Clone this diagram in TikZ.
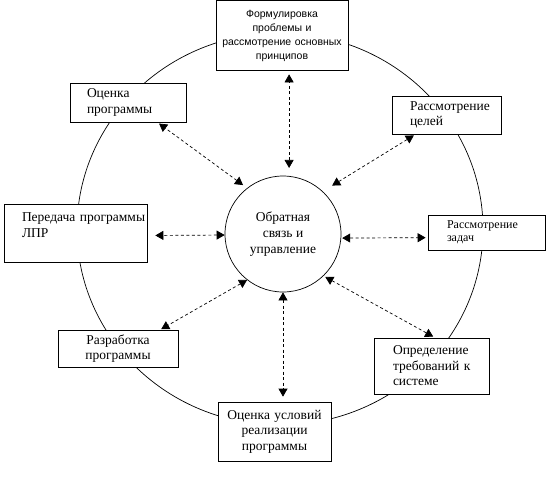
\documentclass[tikz,border=0pt]{standalone}
\usepackage{fontspec}
\setmainfont{Liberation Serif}
\newfontfamily\arialfont{Liberation Sans}
\usetikzlibrary{arrows.meta}

\begin{document}
\begin{tikzpicture}[
  x=1pt, y=-1pt,
  >={Triangle[length=8pt,width=9pt]},
  box/.style={draw, fill=white, line width=0.7pt, inner ysep=0pt, align=left,
    font=\fontsize{13.5}{15.5}\selectfont},
  link/.style={<->, line width=0.7pt, dash pattern=on 3pt off 2.5pt}
]
  \useasboundingbox (0,0) rectangle (560,483);
  \draw[line width=0.7pt] (280,229) ellipse [x radius=203, y radius=196];

  \node[box, align=center, inner xsep=3pt, text width=126pt, minimum height=70pt,
    font=\arialfont\fontsize{10.5}{14}\selectfont] (top) at (282,35.5)
    {Формулировка\\проблемы и\\рассмотрение основных\\принципов};
  \node[box, inner xsep=18pt, text width=73pt, minimum height=38pt] (goals) at (446.5,115)
    {Рассмотрение\\целей};
  \node[box, inner xsep=19pt, text width=79pt, minimum height=35pt,
    font=\fontsize{12}{13}\selectfont] (tasks) at (486.5,232.5)
    {Рассмотрение\\задач};
  \node[box, inner xsep=19pt, text width=77pt, minimum height=56pt] (req) at (431.5,366)
    {Определение\\требований~к\\системе};
  \node[box, align=center, inner xsep=3pt, text width=107pt, minimum height=59pt] (cond) at (274.5,431.5)
    {Оценка условий\\реализации\\программы};
  \node[box, align=center, inner xsep=3pt, text width=114pt, minimum height=37pt] (dev) at (118,348.5)
    {Разработка\\программы};
  \node[box, inner xsep=18pt, text width=107pt, minimum height=58pt] (transfer) at (75.5,233)
    {Передача~программы\\ЛПР\\~};
  \node[box, inner xsep=17pt, text width=82pt, minimum height=39pt] (eval) at (128,102.5)
    {Оценка\\программы};

  \node[draw, fill=white, circle, line width=0.7pt, minimum size=116pt, inner sep=0pt,
    align=center, font=\fontsize{13.5}{16}\selectfont] (fb) at (283,234)
    {Обратная\\связь и\\управление};

  \draw[link, shorten <=8pt, shorten >=3.5pt] (fb.84) -- (fb.84 |- top.south);
  \draw[link, shorten <=11pt, shorten >=2pt] (fb.47) -- (goals.212);
  \draw[link, shorten <=1pt, shorten >=2pt] (fb.-4) -- (tasks.185);
  \draw[link, shorten <=2pt, shorten >=2pt] (fb.-46) -- (req.83);
  \draw[link, shorten >=5pt] (fb.south) -- (fb.south |- cond.north);
  \draw[link, shorten >=1pt] (fb.232) -- (dev.24);
  \draw[link, shorten >=8pt] (fb.181) -- (transfer.-2);
  \draw[link, shorten <=5pt, shorten >=2pt] (fb.128) -- (eval.-34);
\end{tikzpicture}
\end{document}
